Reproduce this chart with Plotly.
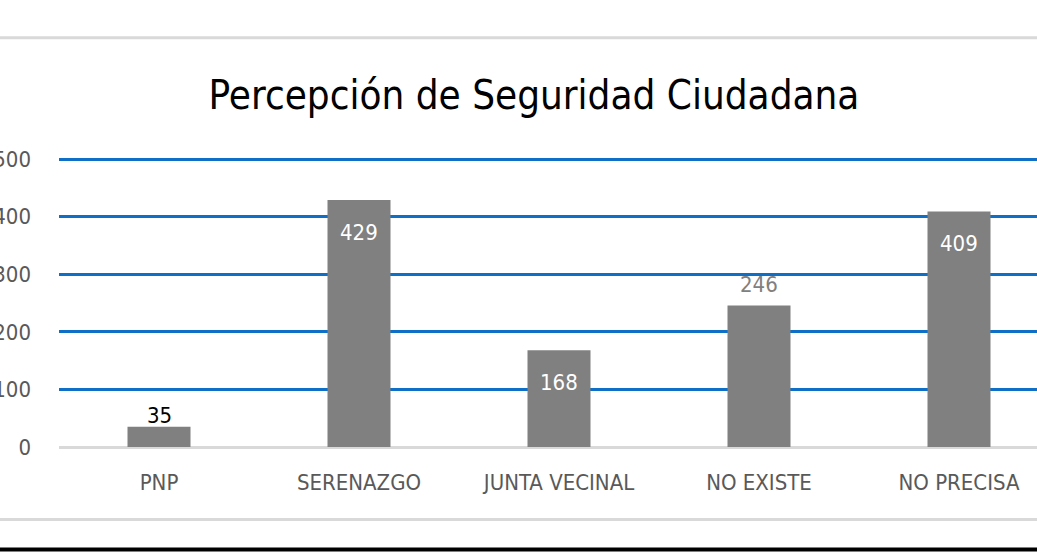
import plotly.graph_objects as go

categories = ["PNP", "SERENAZGO", "JUNTA VECINAL", "NO EXISTE", "NO PRECISA"]
values = [35, 429, 168, 246, 409]
y_ticks = [0, 100, 200, 300, 400, 500]

# label styling (inside -> white, outside -> dark)
label_colors = ["#000000", "#ffffff", "#ffffff", "#808080", "#ffffff"]
label_shift = [11, -32, -32, 21, -32]

FONT = "Liberation Sans Narrow, DejaVu Sans Condensed, sans-serif"

fig = go.Figure()
fig.add_trace(go.Bar(
    x=categories, y=values,
    marker=dict(color="#808080", line=dict(width=0)),
    width=0.315,
    hoverinfo="skip",
))

for c, v, col, sh in zip(categories, values, label_colors, label_shift):
    fig.add_annotation(x=c, y=v, text=str(v), showarrow=False, yshift=sh,
                       yanchor="middle", font=dict(family=FONT, size=22, color=col))

W, H = 1037, 558
YMAX = 502
bottom = 447
top = bottom - 288 * YMAX / 500
def py(p):
    return (bottom - p) / (bottom - top)

shapes = [
    dict(type="line", xref="paper", yref="paper", x0=-1, x1=2, y0=py(37.5), y1=py(37.5),
         line=dict(color="#d9d9d9", width=3)),
    dict(type="line", xref="paper", yref="paper", x0=-1, x1=2, y0=py(519.5), y1=py(519.5),
         line=dict(color="#d9d9d9", width=3)),
    dict(type="line", xref="paper", yref="paper", x0=-1, x1=2, y0=py(549.5), y1=py(549.5),
         line=dict(color="#000000", width=4)),
]

fig.update_layout(
    width=W, height=H,
    margin=dict(l=59, r=0, t=top, b=H - bottom),
    paper_bgcolor="white", plot_bgcolor="white",
    showlegend=False,
    title=dict(text="Percepción de Seguridad Ciudadana", xref="container", yref="container",
               x=534 / W, xanchor="center", y=1 - 95 / H, yanchor="middle",
               font=dict(family=FONT, size=40, color="#000000")),
    xaxis=dict(range=[-0.5, -0.5 + (W - 59) / 200], showgrid=False, zeroline=False,
               showline=False, ticks="", tickfont=dict(family=FONT, size=22, color="#595959"),
               ticklabelstandoff=20, automargin=False, fixedrange=True),
    yaxis=dict(range=[0, YMAX], tickvals=y_ticks, showgrid=True, gridcolor="#0f6fc6",
               gridwidth=2.5, zeroline=True, zerolinecolor="#d9d9d9", zerolinewidth=2.5,
               showline=False, ticks="", tickfont=dict(family=FONT, size=22, color="#595959"),
               ticklabelstandoff=27, automargin=False, fixedrange=True),
    shapes=shapes,
)

fig.write_html("out.html", config={"displayModeBar": False},
               post_script="document.body.style.margin='0';document.body.style.overflow='hidden';")
